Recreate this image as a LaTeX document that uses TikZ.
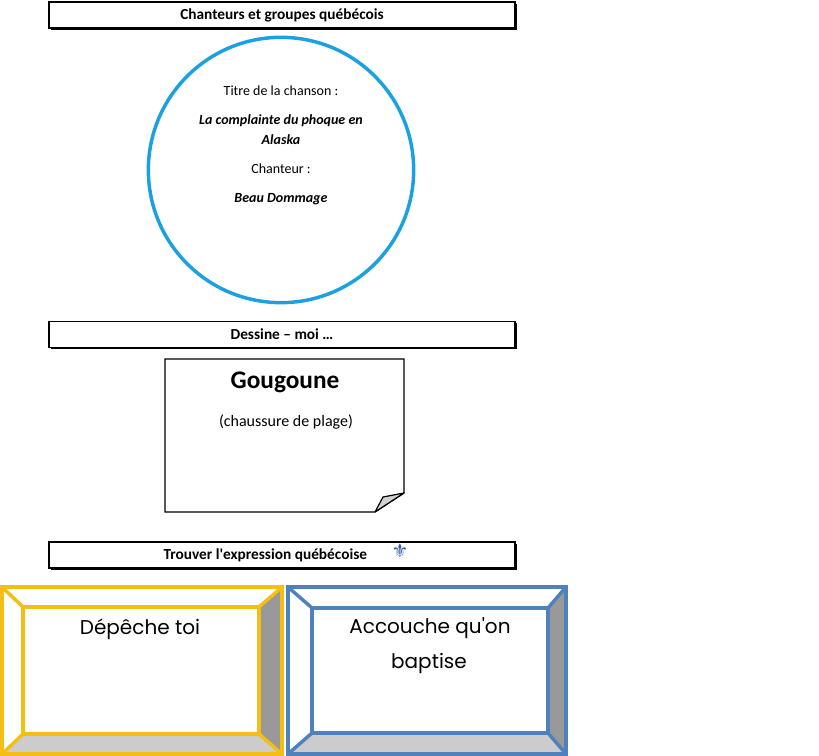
\documentclass[tikz,border=0pt]{standalone}
\usepackage{fontspec}
\setmainfont{Carlito}
\newfontfamily\handfont{Poppins}
\newfontfamily\symbfont{DejaVu Sans}
\usepackage{xcolor}
\usepackage{tikz}
\usetikzlibrary{shadows}
\definecolor{circleblue}{RGB}{27,161,226}
\definecolor{frameyellow}{RGB}{245,190,20}
\definecolor{frameblue}{RGB}{79,129,189}
\definecolor{lysblue}{RGB}{50,90,170}

\begin{document}
\begin{tikzpicture}[x=0.75pt,y=-0.75pt,
    title box/.style={draw,line width=0.9pt,fill=white,minimum width=349.5pt,minimum height=19.5pt,font=\bfseries\fontsize{11.5}{13}\selectfont,drop shadow={shadow xshift=1.2pt,shadow yshift=-1.2pt,fill=black,opacity=1}},
    song text/.style={font=\fontsize{10.5}{12}\selectfont},
    song name/.style={font=\itshape\bfseries\fontsize{10.5}{12}\selectfont},
    frame line/.style={line width=2.6pt,line join=miter},
    hand text/.style={font=\handfont\fontsize{15}{18}\selectfont}]
    \useasboundingbox (0,0) rectangle (819,756);
    % headers
    \node[title box] (chanteurs) at (282,15) {Chanteurs et groupes québécois};
    \node[title box] (dessine) at (282,334.5) {Dessine -- moi \dots};
    \node[title box] (trouver) at (282,555) {Trouver l\textquotesingle expression québécoise\kern25pt\null};
    \node[text=lysblue,font=\symbfont\fontsize{14}{14}\selectfont] (lys) at (400,551) {⚜};
    % song
    \node[circle,draw=circleblue,line width=2.6pt,minimum size=199pt] (disque) at (281,170) {};
    \node[song text] (titre) at (281,91) {Titre de la chanson :};
    \node[song name] (chanson1) at (281,121) {La complainte du phoque en};
    \node[song name] (chanson2) at (281,140) {Alaska};
    \node[song text] (chanteur) at (281,169) {Chanteur :};
    \node[song name] (groupe) at (281,199) {Beau Dommage};
    % drawing sheet
    \draw[line width=0.9pt,fill=white] (165,359) -- (404,359) -- (404,493) -- (375,512) -- (165,512) -- cycle;
    \draw[line width=0.9pt,fill=gray!35,line join=round] (375,512) -- (383,497) -- (404,493) -- cycle;
    \node[font=\bfseries\fontsize{19}{22}\selectfont] (gougoune) at (285,382) {Gougoune};
    \node[font=\fontsize{12}{14}\selectfont] (plage) at (286,422) {(chaussure de plage)};
    % yellow frame
    \fill[gray!80] (282,587) -- (282,754) -- (259,734) -- (259,607) -- cycle;
    \fill[gray!40] (2,754) -- (282,754) -- (259,734) -- (23,734) -- cycle;
    \draw[frame line,frameyellow] (2,587) rectangle (282,754);
    \draw[frame line,frameyellow] (23,607) rectangle (259,734);
    \draw[frame line,frameyellow] (2,587) -- (23,607) (282,587) -- (259,607)
      (2,754) -- (23,734) (282,754) -- (259,734);
    \node[hand text] (depeche) at (140,629) {Dépêche toi};
    % blue frame
    \fill[gray!80] (566,587) -- (566,754) -- (548,733) -- (548,608) -- cycle;
    \fill[gray!40] (288,754) -- (566,754) -- (548,733) -- (312,733) -- cycle;
    \draw[frame line,frameblue] (288,587) rectangle (566,754);
    \draw[frame line,frameblue] (312,608) rectangle (548,733);
    \draw[frame line,frameblue] (288,587) -- (312,608) (566,587) -- (548,608)
      (288,754) -- (312,733) (566,754) -- (548,733);
    \node[hand text] (accouche1) at (430,628) {Accouche qu\textquotesingle on};
    \node[hand text] (accouche2) at (429,663) {baptise};
\end{tikzpicture}
\end{document}
